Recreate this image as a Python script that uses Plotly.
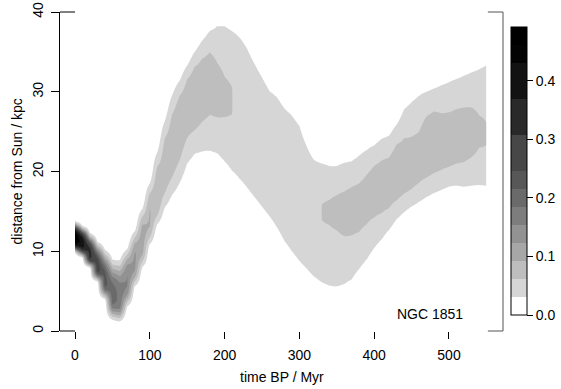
import numpy as np
import plotly.graph_objects as go

# ---- data (columns every 10 Myr) ----
time_myr = list(range(0, 551, 10))

# lower / upper distance (kpc) of the outermost filled contour
outer_lo = [9.8, 9.2, 7.95, 6.2, 4.0, 1.4, 1.2, 3.1, 5.6, 8.0,
            10.9, 13.4, 15.5, 17.1, 18.6, 21.0, 22.2, 22.5, 22.6, 22.3,
            21.3, 20.1, 19.1, 18.0, 16.8, 15.6, 14.4, 13.0, 11.3, 10.0,
            8.8, 7.8, 6.8, 6.1, 5.7, 5.6, 5.9, 6.5, 7.8, 9.0,
            10.4, 11.5, 12.7, 14.0, 14.9, 15.6, 16.2, 16.8, 17.3, 17.7,
            18.1, 18.2, 18.1, 18.2, 18.3, 18.2]
outer_hi = [13.8, 13.2, 12.3, 11.2, 10.2, 9.0, 8.9, 10.3, 12.5, 15.3,
            18.5, 22.4, 26.3, 29.6, 31.4, 33.3, 35.0, 36.4, 37.6, 38.2,
            38.2, 37.6, 36.8, 35.4, 33.5, 31.8, 30.1, 29.3, 27.9, 27.0,
            25.7, 23.1, 21.4, 21.0, 20.7, 20.7, 21.1, 21.3, 22.0, 22.7,
            23.3, 24.1, 24.5, 25.9, 27.8, 28.7, 29.5, 30.0, 30.4, 30.8,
            31.2, 31.6, 32.0, 32.4, 32.8, 33.3]
# distance of the density ridge (kpc)
ridge_kpc = [11.6, 11.0, 9.6, 8.0, 6.3, 4.4, 4.0, 6.2, 8.6, 11.2,
             14.0, 16.8, 20.4, 23.1, 26.3, 29.0, 30.1, 31.2, 32.0, 30.2,
             29.2, 28.9, 28.0, 26.7, 25.2, 23.7, 22.2, 21.1, 19.6, 18.5,
             17.2, 15.4, 14.5, 15.1, 15.3, 15.5, 15.4, 15.8, 15.9, 17.0,
             18.1, 18.4, 18.6, 19.8, 19.9, 20.0, 20.8, 22.6, 23.4, 23.2,
             23.3, 23.9, 24.2, 24.6, 24.8, 24.5]
# peak density on the ridge
peak_density = [0.492, 0.40, 0.33, 0.27, 0.23, 0.20, 0.175, 0.155, 0.13, 0.11,
                0.095, 0.085, 0.078, 0.078, 0.078, 0.074, 0.0765, 0.072, 0.069, 0.0653,
                0.0627, 0.0618, 0.055, 0.05, 0.05, 0.05, 0.05, 0.05, 0.05, 0.05,
                0.05, 0.05, 0.055, 0.0616, 0.0619, 0.0626, 0.0638, 0.0647, 0.0653, 0.066,
                0.0679, 0.069, 0.070, 0.0736, 0.070, 0.0679, 0.0671, 0.0729, 0.0736, 0.070,
                0.069, 0.0684, 0.0675, 0.0656, 0.0625, 0.0618]

z_max = 0.492
n_bands = 16
colorbar_ticks = [0.0, 0.1, 0.2, 0.3, 0.4]
colorbar_labels = ["0.0", "0.1", "0.2", "0.3", "0.4"]
x_ticks = [0, 100, 200, 300, 400, 500]
y_ticks = [0, 10, 20, 30, 40]

# ---- build density grid from the read profiles ----
step = z_max / n_bands
distance_grid = np.round(np.arange(0, 40.0001, 0.2), 3)
shape_q = 3.0
z = np.zeros((len(distance_grid), len(time_myr)))
for j, (lo, hi, c, P) in enumerate(zip(outer_lo, outer_hi, ridge_kpc, peak_density)):
    d = distance_grid
    u = np.where(d < c, (d - c) / (c - lo), (d - c) / (hi - c))
    z[:, j] = P * np.exp(-np.log(P / step) * np.abs(u) ** shape_q)

# ---- grey scale ----
def grey(v):
    g = int(round(255 * v))
    return f"rgb({g},{g},{g})"

band_colors = [grey(1.0)] + [grey(0.84 * ((15 - k) / 14) ** 1.6) for k in range(1, 16)]
nl = n_bands - 1
colorscale = []
for k in range(nl):
    a = k / nl
    b = (k + 1) / nl if k < nl - 1 else (nl - 0.1) / nl
    colorscale += [[a, band_colors[k]], [b, band_colors[k]]]
colorscale += [[(nl - 0.1) / nl, band_colors[15]], [1.0, band_colors[15]]]

FONT = "Liberation Sans, Arial, Helvetica, sans-serif"

fig = go.Figure(go.Contour(
    x=time_myr, y=distance_grid, z=z,
    autocontour=False,
    contours=dict(start=step, end=15 * step, size=step, coloring="fill", showlines=False),
    line=dict(width=0, smoothing=1.0),
    colorscale=colorscale, zmin=0, zmax=z_max,
    colorbar=dict(
        thickness=16, thicknessmode="pixels", len=288, lenmode="pixels",
        x=(511 - 60) / 443, xanchor="left", xpad=0,
        y=(331 - 315) / 319, yanchor="bottom", ypad=0,
        outlinewidth=1, outlinecolor="black",
        tickvals=colorbar_ticks, ticktext=colorbar_labels,
        ticks="outside", ticklen=6, tickcolor="black", tickwidth=1,
        tickfont=dict(family=FONT, size=14, color="black"),
    ),
    hoverinfo="skip",
))

x0r, x1r = -20.05, 572.2
fig.update_layout(
    width=561, height=389,
    margin=dict(l=60, r=58, t=12, b=58, pad=0, autoexpand=False),
    paper_bgcolor="white", plot_bgcolor="white",
    font=dict(family=FONT, size=14, color="black"),
    showlegend=False,
    xaxis=dict(range=[x0r, x1r], tickvals=x_ticks, ticks="outside", ticklen=7,
               tickcolor="black", showline=False, showgrid=False, zeroline=False,
               ticklabelstandoff=4, tickfont=dict(size=14)),
    yaxis=dict(range=[0, 40], tickvals=y_ticks, ticks="outside", ticklen=8,
               tickcolor="black", showline=True, linecolor="black", linewidth=1,
               showgrid=False, zeroline=False, tickangle=-90, tickfont=dict(size=14),
               ticklabelstandoff=2),
    shapes=[
        dict(type="line", xref="x", yref="paper", x0=x0r, x1=0, y0=1, y1=1, line=dict(color="black", width=1)),
        dict(type="line", xref="x", yref="paper", x0=x0r, x1=0, y0=0, y1=0, line=dict(color="black", width=1)),
        dict(type="line", xref="x", yref="paper", x0=552, x1=x1r, y0=1, y1=1, line=dict(color="#555", width=1)),
        dict(type="line", xref="x", yref="paper", x0=552, x1=x1r, y0=0, y1=0, line=dict(color="#555", width=1)),
        dict(type="line", xref="paper", yref="paper", x0=1, x1=1, y0=0, y1=1, line=dict(color="#555", width=1)),
    ],
    annotations=[
        dict(text="time BP / Myr", xref="paper", yref="paper", x=0.5, y=(331 - 377) / 319,
             xanchor="center", yanchor="middle", showarrow=False, font=dict(size=14)),
        dict(text="distance from Sun / kpc", xref="paper", yref="paper", x=(16 - 60) / 443, y=0.5,
             xanchor="center", yanchor="middle", textangle=-90, showarrow=False, font=dict(size=14)),
        dict(text="NGC 1851", xref="x", yref="y", x=521, y=2.13,
             xanchor="right", yanchor="middle", showarrow=False, font=dict(size=14)),
    ],
)

fig.write_html("out.html",
               config={"displayModeBar": False},
               post_script="document.body.style.margin='0';document.body.style.padding='0';"
                           "document.body.style.overflow='hidden';")
